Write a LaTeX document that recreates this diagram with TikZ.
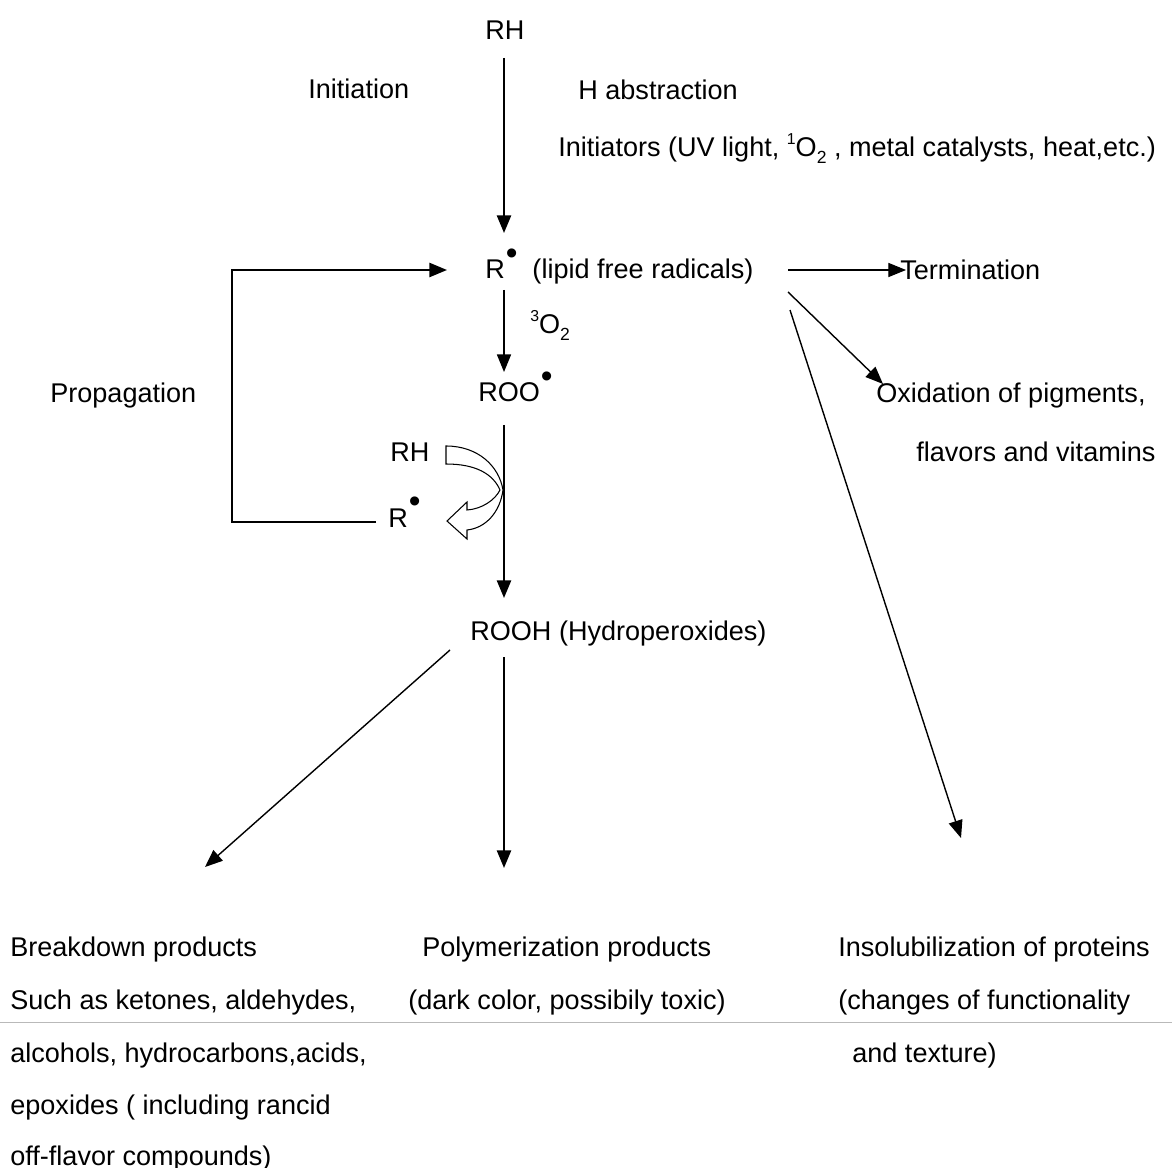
\documentclass[tikz,border=0pt]{standalone}
\usepackage{fontspec}
\setmainfont{Liberation Sans}
\usetikzlibrary{arrows.meta}
\newcommand\radot{\raisebox{8.5pt}{\kern0.5pt\fontsize{19}{19}\selectfont\textbullet}}
\newcommand\lsub[1]{\raisebox{-0.45ex}{\fontsize{10}{12}\selectfont #1}}
\newcommand\lsup[1]{\raisebox{0.85ex}{\fontsize{9}{12}\selectfont #1}}
\begin{document}
\begin{tikzpicture}[x=0.02cm,y=-0.02cm,
  lbl/.style={inner sep=0pt,anchor=base west,font=\fontsize{15.4}{18}\selectfont},
  arr/.style={line width=1.2pt,-{Triangle[length=10pt,width=8pt]}},
  thinarr/.style={line width=0.8pt,-{Triangle[length=10pt,width=8pt]}},
  hairarr/.style={line width=0.6pt,-{Triangle[length=10pt,width=8pt]}},
]
\useasboundingbox (0,0) rectangle (1172,1168);

% page-break line of the scan
\coordinate (pl) at (0,1022);
\coordinate (pr) at (1172,1022);
\draw[gray!55,line width=0.4pt] (pl) -- (pr);

% texts
\node[lbl] (rh) at (485,40) {RH};
\node[lbl] (init) at (308,99) {Initiation};
\node[lbl] (habs) at (578,100) {H abstraction};
\node[lbl] (inits) at (558,157) {Initiators (UV light, \lsup{1}O\lsub{2} , metal catalysts, heat,etc.)};
\node[lbl] (r) at (485,279) {R\radot\ \ (lipid free radicals)};
\node[lbl] (o2) at (530,334) {\lsup{3}O\lsub{2}};
\node[lbl] (roo) at (478,402) {ROO\radot};
\node[lbl] (prop) at (50,403) {Propagation};
\node[lbl] (rh2) at (390,462) {RH};
\node[lbl] (r2) at (388,527) {R\radot};
\node[lbl] (rooh) at (470,640) {ROOH (Hydroperoxides)};
\node[lbl] (term) at (900,280) {Termination};
\node[lbl] (ox1) at (876,403) {Oxidation of pigments,};
\node[lbl] (ox2) at (916,462) {flavors and vitamins};

\node[lbl] (b1) at (10,956) {Breakdown products};
\node[lbl] (b2) at (10,1009) {Such as ketones, aldehydes,};
\node[lbl] (b3) at (10,1062) {alcohols, hydrocarbons,acids,};
\node[lbl] (b4) at (10,1114) {epoxides ( including rancid};
\node[lbl] (b5) at (10,1165) {off-flavor compounds)};
\node[lbl] (p1) at (422,956) {Polymerization products};
\node[lbl] (p2) at (408,1009) {(dark color, possibily toxic)};
\node[lbl] (i1) at (838,956) {Insolubilization of proteins};
\node[lbl] (i2) at (838,1009) {(changes of functionality};
\node[lbl] (i3) at (852,1062) {and texture)};

% connector end points
\coordinate (a1s) at (504,58);   \coordinate (a1e) at (504,233);
\coordinate (a2s) at (504,290);  \coordinate (a2e) at (504,372);
\coordinate (a3s) at (504,425);  \coordinate (a3e) at (504,598);
\coordinate (fbs) at (376,522);  \coordinate (fbc1) at (232,522);
\coordinate (fbc2) at (232,270); \coordinate (fbe) at (447,270);
\coordinate (ts) at (788,270);   \coordinate (te) at (906,270);
\coordinate (oxs) at (788,292);  \coordinate (oxe) at (883,384);
\coordinate (ins) at (790,310);  \coordinate (ine) at (961,838);
\coordinate (bds) at (450,650);  \coordinate (bde) at (205,867);
\coordinate (pos) at (504,657);  \coordinate (poe) at (504,868);

% hollow curved arrow RH -> R.
\draw[line width=0.6pt,fill=white]
  (446,446) .. controls (478,446) and (499,466) .. (503,490)
  .. controls (500,512) and (486,528) .. (467,530)
  -- (467,539) -- (447,521) -- (467,502) -- (467,510)
  .. controls (482,509) and (495,500) .. (500,490)
  .. controls (493,474) and (476,464) .. (446,464) -- cycle;

\draw[arr] (a1s) -- (a1e);
\draw[thinarr] (a2s) -- (a2e);
\draw[arr] (a3s) -- (a3e);
\draw[arr] (fbs) -- (fbc1) -- (fbc2) -- (fbe);
\draw[hairarr] (ts) -- (te);
\draw[thinarr] (oxs) -- (oxe);
\draw[thinarr] (ins) -- (ine);
\draw[thinarr] (bds) -- (bde);
\draw[arr] (pos) -- (poe);
\end{tikzpicture}
\end{document}
